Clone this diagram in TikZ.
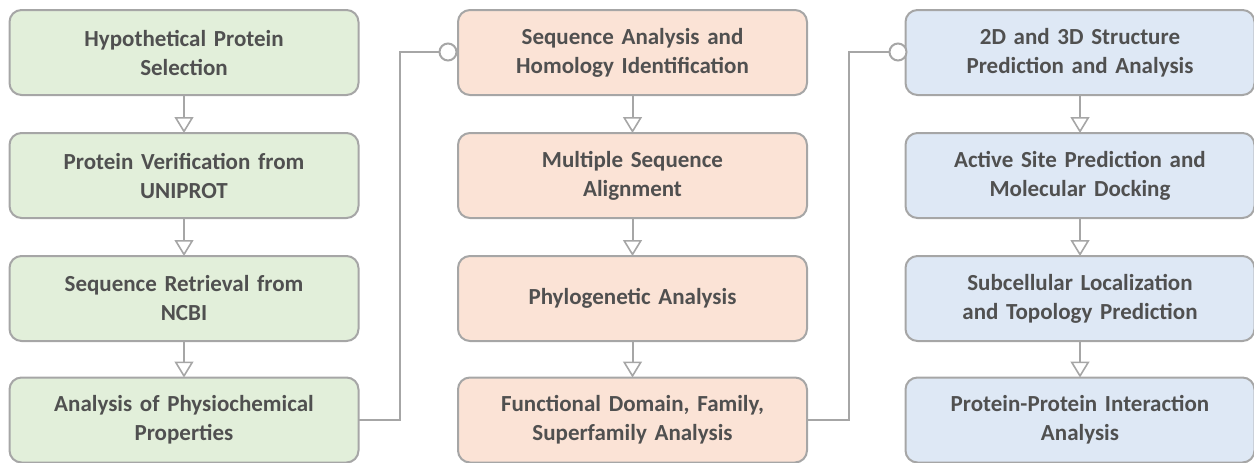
\documentclass[tikz,border=0pt]{standalone}
\usepackage{fontspec}
\setmainfont{Carlito}
\usetikzlibrary{arrows.meta}
\definecolor{gfill}{HTML}{E2EFDA}
\definecolor{ofill}{HTML}{FBE3D6}
\definecolor{bfill}{HTML}{DEE8F5}
\definecolor{edge}{HTML}{A6A6A6}
\definecolor{txt}{HTML}{505050}
\tikzset{
  box/.style={draw=edge, line width=2pt, rounded corners=12pt, minimum width=349pt, minimum height=85pt,
    inner sep=0pt, outer sep=0pt, text width=330pt, align=center, text=txt,
    font=\fontsize{23}{29}\selectfont\bfseries},
  gbox/.style={box, fill=gfill},
  obox/.style={box, fill=ofill},
  bbox/.style={box, fill=bfill},
  flow/.style={draw=edge, line width=2pt, -{Triangle[open, width=19pt, length=16pt, line width=1.6pt]}},
  link/.style={draw=edge, line width=2pt},
  knob/.style={circle, draw=edge, line width=2pt, fill=white, minimum size=17pt, inner sep=0pt, outer sep=0pt},
}
\begin{document}
\begin{tikzpicture}[x=1pt, y=-1pt]
\useasboundingbox (0,0) rectangle (1254,463);
% column 1
\node[gbox] (a1) at (184,52.5) {Hypothetical Protein\\Selection};
\node[gbox] (a2) at (184,175.5) {Protein Verification from\\UNIPROT};
\node[gbox] (a3) at (184,298.5) {Sequence Retrieval from\\NCBI};
\node[gbox] (a4) at (184,420) {Analysis of Physiochemical\\Properties};
% column 2
\node[obox] (b1) at (632.5,52.5) {Sequence Analysis and\\Homology Identification};
\node[obox] (b2) at (632.5,175.5) {Multiple Sequence\\Alignment};
\node[obox] (b3) at (632.5,298.5) {Phylogenetic Analysis};
\node[obox] (b4) at (632.5,420) {Functional Domain, Family,\\Superfamily Analysis};
% column 3
\node[bbox] (c1) at (1080,52.5) {2D and 3D Structure\\Prediction and Analysis};
\node[bbox] (c2) at (1080,175.5) {Active Site Prediction and\\Molecular Docking};
\node[bbox] (c3) at (1080,298.5) {Subcellular Localization\\and Topology Prediction};
\node[bbox] (c4) at (1080,420) {Protein-Protein Interaction\\Analysis};
% vertical flows
\foreach \c in {a,b,c}{
  \draw[flow] (\c1.south) -- (\c2.north);
  \draw[flow] (\c2.south) -- (\c3.north);
  \draw[flow] (\c3.south) -- (\c4.north);
}
% column links
\node[knob] (k1) at (448,52) {};
\node[knob] (k2) at (898,52) {};
\coordinate (j1) at (400,52);
\coordinate (j2) at (849,52);
\draw[link] (a4.east) -| (j1) -- (k1.west);
\draw[link] (b4.east) -| (j2) -- (k2.west);
\end{tikzpicture}
\end{document}
